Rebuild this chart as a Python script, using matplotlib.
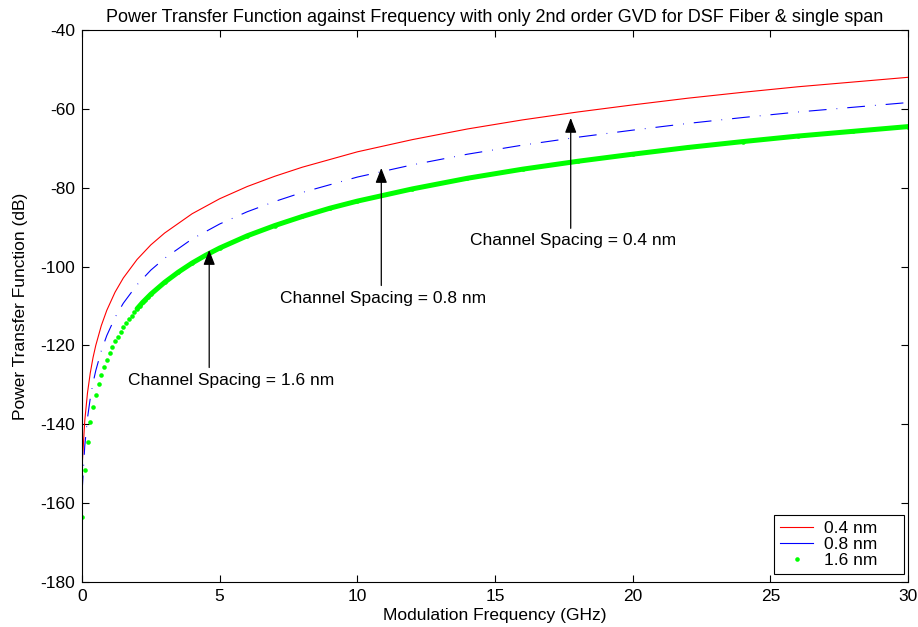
# Power transfer function vs modulation frequency, DSF fiber, single span

import matplotlib
matplotlib.use("Agg")
import numpy as np
import matplotlib.pyplot as plt
from matplotlib.lines import Line2D

plt.rcParams['font.family'] = ['Liberation Sans', 'DejaVu Sans']
plt.rcParams['axes.unicode_minus'] = False

# frequency grid (GHz) shared by the two line curves
freq = [0, 0.1, 0.2, 0.3, 0.4, 0.5, 0.7, 0.9, 1.2, 1.5, 2, 2.5, 3, 4, 5, 6, 7, 8,
        10, 12, 14, 16, 18, 20, 22, 24, 26, 28, 30]

# 0.4 nm channel spacing (dB)
ptf_04 = [-151.1, -139.1, -132.0, -127.0, -123.1, -120.0, -115.0, -111.1, -106.5,
          -102.9, -98.2, -94.5, -91.5, -86.6, -82.8, -79.7, -77.1, -74.8,
          -70.9, -67.8, -65.1, -62.8, -60.8, -59.0, -57.3, -55.8, -54.4, -53.2, -52.0]

# 0.8 nm channel spacing (dB)
ptf_08 = [-157.5, -145.5, -138.4, -133.4, -129.5, -126.4, -121.4, -117.5, -112.9,
          -109.3, -104.6, -100.9, -97.9, -93.0, -89.2, -86.1, -83.5, -81.2,
          -77.3, -74.2, -71.5, -69.2, -67.2, -65.4, -63.7, -62.2, -60.8, -59.6, -58.4]

# 1.6 nm channel spacing, plotted as dots (dense, so they merge into a band)
freq_16 = [0, 0.1, 0.2, 0.3, 0.4, 0.5, 0.6, 0.7, 0.8, 0.9, 1.0, 1.1, 1.2, 1.3, 1.4,
           1.5, 1.6, 1.7, 1.8, 1.9, 2.0, 2.1, 2.2, 2.3, 2.4, 2.5,
           3, 3.5, 4, 4.5, 5, 6, 7, 8, 9, 10, 12, 14, 16, 18, 20, 22, 24, 26, 28, 30]
ptf_16 = [-163.6, -151.6, -144.5, -139.5, -135.6, -132.5, -129.8, -127.5, -125.4,
          -123.6, -121.9, -120.4, -119.0, -117.8, -116.6, -115.4, -114.4, -113.4,
          -112.5, -111.6, -110.7, -109.9, -109.1, -108.4, -107.7, -107.0,
          -104.0, -101.4, -99.1, -97.1, -95.3, -92.2, -89.6, -87.3, -85.2, -83.4,
          -80.3, -77.6, -75.3, -73.3, -71.5, -69.8, -68.3, -66.9, -65.7, -64.5]

# annotations: label, arrow x, arrow tail y, arrow head y, text x, text y
notes = [
    ("Channel Spacing = 0.4 nm", 17.75, -90.3, -62.3, 17.82, -93.5),
    ("Channel Spacing = 0.8 nm", 10.87, -104.8, -75.0, 10.92, -108.0),
    ("Channel Spacing = 1.6 nm", 4.62, -125.6, -95.8, 5.43, -129.0),
]

green = '#00ff00'
blue_dash = (0, (16, 9, 0.7, 9))
fs = 12.5

fig = plt.figure(figsize=(9.18, 6.27), dpi=100)
ax = fig.add_axes([82 / 918, 45 / 627, 826 / 918, 552 / 627])

ax.plot(freq, ptf_04, color='red', lw=0.8)
ax.plot(freq, ptf_08, color='blue', lw=0.8, linestyle=blue_dash)

f16 = np.array(freq_16)
p16 = np.array(ptf_16)
band = f16 >= 2.0
ax.plot(f16[band], p16[band], color=green, lw=3.6, solid_capstyle='round')
ax.plot(f16, p16, 'o', color=green, ms=3.3, mew=0)

for label, ax_x, tail_y, head_y, tx, ty in notes:
    ax.annotate('', xy=(ax_x, head_y), xytext=(ax_x, tail_y),
                arrowprops=dict(arrowstyle='-|>,head_length=0.9,head_width=0.35',
                                color='black', lw=0.9, mutation_scale=10,
                                shrinkA=0, shrinkB=0))
    ax.text(tx, ty, label, ha='center', va='center', fontsize=fs)

ax.set_xlim(0, 30)
ax.set_ylim(-180, -40)
ax.set_xticks(range(0, 31, 5))
ax.set_yticks(range(-180, -39, 20))
ax.tick_params(direction='in', top=True, right=True, length=5, labelsize=fs, pad=5)
for s in ax.spines.values():
    s.set_linewidth(0.8)

ax.set_title('Power Transfer Function against Frequency with only 2nd order GVD for DSF Fiber & single span',
             fontsize=13, pad=6)
ax.set_xlabel('Modulation Frequency (GHz)', fontsize=fs, labelpad=3)
ax.set_ylabel('Power Transfer Function (dB)', fontsize=fs, labelpad=9)

handles = [
    Line2D([], [], color='red', lw=0.8),
    Line2D([], [], color='blue', lw=0.8),
    Line2D([], [], color=green, marker='o', ms=3.3, mew=0, linestyle='none'),
]
# legend box spans roughly 774..904 px across, 515..574 px down
leg = ax.legend(handles, ['0.4 nm', '0.8 nm', '1.6 nm'], loc='lower left',
                bbox_to_anchor=(692 / 826, 8 / 552, 130 / 826, 59 / 552),
                mode='expand', borderaxespad=0,
                fontsize=fs, fancybox=False, edgecolor='black', framealpha=1,
                handlelength=1.9, handletextpad=0.65, labelspacing=0.05,
                borderpad=0.35)
leg.get_frame().set_linewidth(0.8)

fig.savefig('out.png', dpi=100)
